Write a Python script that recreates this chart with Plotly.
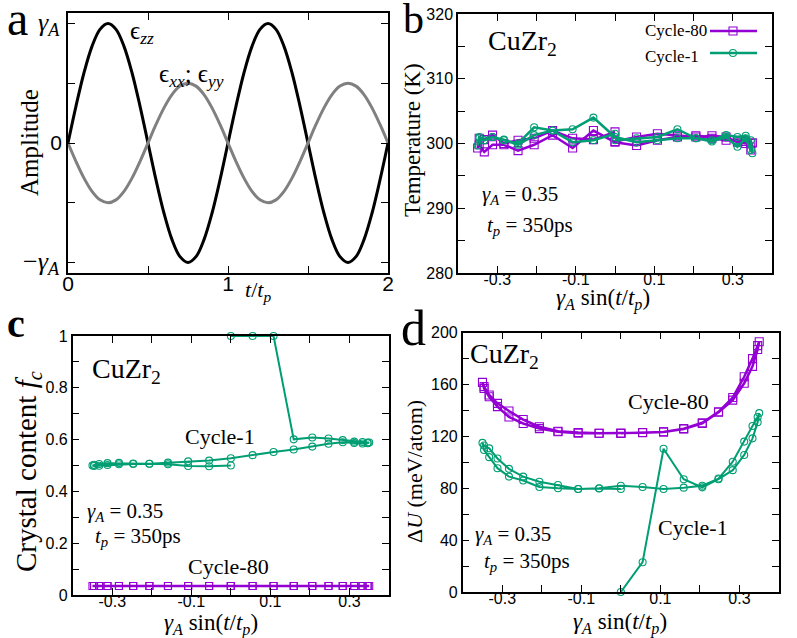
import plotly.graph_objects as go

# ---------------- data ----------------
# panel a: schematic strain signals vs t/t_p
T_A = [0, 0.05, 0.1, 0.15, 0.2, 0.25, 0.3, 0.35, 0.4, 0.45, 0.5, 0.55, 0.6, 0.65, 0.7, 0.75, 0.8, 0.85, 0.9, 0.95,
       1.0, 1.05, 1.1, 1.15, 1.2, 1.25, 1.3, 1.35, 1.4, 1.45, 1.5, 1.55, 1.6, 1.65, 1.7, 1.75, 1.8, 1.85, 1.9, 1.95, 2.0]
EPS_ZZ = [0, 0.309, 0.588, 0.809, 0.951, 1.0, 0.951, 0.809, 0.588, 0.309, 0, -0.309, -0.588, -0.809, -0.951, -1.0,
          -0.951, -0.809, -0.588, -0.309, 0, 0.309, 0.588, 0.809, 0.951, 1.0, 0.951, 0.809, 0.588, 0.309, 0,
          -0.309, -0.588, -0.809, -0.951, -1.0, -0.951, -0.809, -0.588, -0.309, 0]
EPS_XX = [0, -0.155, -0.294, -0.405, -0.476, -0.5, -0.476, -0.405, -0.294, -0.155, 0, 0.155, 0.294, 0.405, 0.476,
          0.5, 0.476, 0.405, 0.294, 0.155, 0, -0.155, -0.294, -0.405, -0.476, -0.5, -0.476, -0.405, -0.294, -0.155,
          0, 0.155, 0.294, 0.405, 0.476, 0.5, 0.476, 0.405, 0.294, 0.155, 0]

# panels b-d: applied strain gamma_A sin(t/t_p) along one cycle
STRAIN = [0, 0.055, 0.108, 0.159, 0.206, 0.247, 0.283, 0.312, 0.333, 0.346, 0.35,
          0.346, 0.333, 0.312, 0.283, 0.247, 0.206, 0.159, 0.108, 0.055, 0,
          -0.055, -0.108, -0.159, -0.206, -0.247, -0.283, -0.312, -0.333, -0.346, -0.35,
          -0.346, -0.333, -0.312, -0.283, -0.247, -0.206, -0.159, -0.108, -0.055, 0]

TEMP_C80 = [300.3, 301.0, 301.5, 301.2, 301.0, 301.2, 301.0, 300.2, 300.0, 300.0, 300.1,
            299.0, 300.3, 300.5, 300.5, 300.8, 301.2, 301.0, 300.5, 299.7, 300.2,
            302.0, 299.3, 301.3, 299.8, 298.9, 299.8, 299.8, 298.7, 299.8, 299.3,
            300.8, 300.6, 301.3, 300.0, 300.5, 300.8, 302.0, 300.8, 300.6, 301.8]
TEMP_C1 = [300.5, 300.8, 301.0, 302.2, 300.8, 300.5, 301.3, 301.0, 301.2, 300.5, 298.5,
           299.0, 300.8, 299.5, 301.0, 300.3, 300.8, 300.8, 300.5, 300.2, 301.0,
           304.0, 302.2, 302.0, 302.5, 300.0, 300.5, 301.0, 300.5, 301.0, 299.7,
           300.8, 300.5, 301.0, 300.6, 299.8, 301.3, 302.0, 300.2, 300.5, 301.5]

FC_C80 = [0.035] * 41
FC_C1 = [1.0, 1.0, 1.0, 0.601, 0.608, 0.604, 0.598, 0.592, 0.591, 0.589, 0.589,
         0.586, 0.585, 0.587, 0.590, 0.584, 0.573, 0.562, 0.552, 0.540, 0.528,
         0.519, 0.516, 0.511, 0.507, 0.508, 0.510, 0.509, 0.506, 0.503, 0.500,
         0.498, 0.499, 0.502, 0.505, 0.506, 0.507, 0.505, 0.498, 0.497, 0.500]

DU_C80 = [122.4, 123.0, 123.5, 125.7, 130.0, 138.6, 148.0, 161.0, 174.0, 187.0, 193.0,
          190.0, 180.0, 166.0, 150.0, 139.0, 130.5, 126.0, 123.5, 122.8, 122.4,
          122.4, 123.0, 124.0, 127.5, 133.0, 139.6, 145.5, 152.0, 158.4, 161.7,
          157.0, 150.6, 143.0, 135.0, 130.0, 126.0, 123.6, 122.5, 122.4, 122.4]
DU_C1 = [0.0, 23.0, 110.5, 87.0, 80.7, 87.0, 94.0, 105.7, 118.5, 131.0, 138.0,
         135.0, 128.0, 116.0, 100.5, 87.5, 82.0, 80.5, 79.5, 81.0, 82.0,
         80.0, 79.5, 80.0, 81.0, 86.0, 89.0, 95.5, 104.0, 109.5, 115.0,
         113.0, 110.8, 103.0, 95.0, 89.0, 85.0, 82.5, 79.5, 79.8, 79.5]

STRAIN_LABELS = [-0.3, -0.1, 0.1, 0.3]
STRAIN_LABEL_TEXT = ['-0.3', '-0.1', '0.1', '0.3']
STRAIN_MINOR = [-0.2, 0, 0.2]

PURPLE = '#9400d3'
GREEN = '#009e73'
SERIF = 'Liberation Serif, DejaVu Serif, serif'
SANS = 'Liberation Sans, Arial, sans-serif'

W, H = 797, 638


def px(x):
    return x / W


def py(y):
    return 1 - y / H


fig = go.Figure()

# panel a
fig.add_trace(go.Scatter(x=T_A, y=EPS_ZZ, mode='lines', line=dict(color='black', width=3, shape='spline'),
                         xaxis='x', yaxis='y', showlegend=False))
fig.add_trace(go.Scatter(x=T_A, y=EPS_XX, mode='lines', line=dict(color='#808080', width=3, shape='spline'),
                         xaxis='x', yaxis='y', showlegend=False))


def cyc(xs, ys, ax, color, symbol, size, lw):
    fig.add_trace(go.Scatter(x=xs, y=ys, mode='lines+markers', xaxis='x' + ax, yaxis='y' + ax,
                             line=dict(color=color, width=lw),
                             marker=dict(symbol=symbol, size=size, color=color, line=dict(color=color, width=1.1)),
                             cliponaxis=False, showlegend=False))


cyc(STRAIN, TEMP_C80, '2', PURPLE, 'square-open', 8, 2.5)
cyc(STRAIN, TEMP_C1, '2', GREEN, 'circle-open', 7, 2.5)
cyc(STRAIN, FC_C1, '3', GREEN, 'circle-open', 7, 2)
cyc(STRAIN, FC_C80, '3', PURPLE, 'square-open', 7, 2.5)
cyc(STRAIN, DU_C80, '4', PURPLE, 'square-open', 8, 2.5)
cyc(STRAIN, DU_C1, '4', GREEN, 'circle-open', 7, 2)


def axis(domain, rng, anchor, tickvals, ticktext, minorvals, size=16, xax=True):
    d = dict(showline=True, linecolor='black', linewidth=1.5, mirror='ticks', ticks='inside', ticklen=7,
             tickwidth=1.2, tickcolor='black', showgrid=False, zeroline=False, automargin=False,
             tickfont=dict(family=SANS, size=size, color='black'),
             domain=domain, range=rng, anchor=anchor, tickmode='array', tickvals=tickvals, ticktext=ticktext,
             minor=dict(tickmode='array', tickvals=minorvals, ticks='inside', ticklen=7, tickwidth=1.2,
                        tickcolor='black', showgrid=False))
    if xax:
        d['ticklabelstandoff'] = -9
    return d


fig.update_layout(
    width=W, height=H, margin=dict(l=0, r=0, t=0, b=0, autoexpand=False),
    paper_bgcolor='white', plot_bgcolor='white',
    xaxis=axis([px(68), px(388)], [0, 2], 'y', [0, 1, 2], ['0', '1', '2'], [0.5, 1.5], size=21),
    yaxis=axis([py(273), py(13)], [-1.088, 1.088], 'x', [0], ['0'], [-1, -0.5, 0.5, 1], size=21, xax=False),
    xaxis2=axis([px(458), px(772)], [-0.4, 0.4], 'y2', STRAIN_LABELS, STRAIN_LABEL_TEXT, STRAIN_MINOR),
    yaxis2=axis([py(273), py(14)], [280, 320], 'x2', [280, 290, 300, 310, 320],
                ['280', '290', '300', '310', '320'], [285, 295, 305, 315], xax=False),
    xaxis3=axis([px(72.7), px(389)], [-0.4, 0.4], 'y3', STRAIN_LABELS, STRAIN_LABEL_TEXT, STRAIN_MINOR),
    yaxis3=axis([py(595), py(336)], [0, 1], 'x3', [0, 0.2, 0.4, 0.6, 0.8, 1.0],
                ['0', '0.2', '0.4', '0.6', '0.8', '1'], [0.1, 0.3, 0.5, 0.7, 0.9], xax=False),
    xaxis4=axis([px(462.7), px(779)], [-0.4, 0.4], 'y4', STRAIN_LABELS, STRAIN_LABEL_TEXT, STRAIN_MINOR),
    yaxis4=axis([py(592), py(332.7)], [0, 200], 'x4', [0, 40, 80, 120, 160, 200],
                ['0', '40', '80', '120', '160', '200'], [20, 60, 100, 140, 180], xax=False),
)

ann = []


def text(x, y, s, size, family=SERIF, xanchor='center', angle=0, color='black'):
    ann.append(dict(x=px(x), y=py(y), xref='paper', yref='paper', text=s, showarrow=False,
                    xanchor=xanchor, yanchor='middle', textangle=angle,
                    font=dict(family=family, size=size, color=color)))


gA = '<i>γ</i><sub><i>A</i></sub>'
tp = '<i>t</i><sub><i>p</i></sub>'
xlab = gA + ' sin(<i>t</i>/' + tp + ')'

# panel letters
text(17, 19, 'a', 48)
text(414, 19, 'b', 42)
text(16, 323, '<b>c</b>', 40)
text(414, 328, 'd', 50)

# panel a
text(62, 24, gA, 26, xanchor='right')
text(62, 263, '−' + gA, 26, xanchor='right')
text(30, 142, 'Amplitude', 25, angle=-90)
text(258, 291, '<i>t</i>/' + tp, 22)
text(142, 32, 'ϵ<sub><i>zz</i></sub>', 25)
text(191, 75, 'ϵ<sub><i>xx</i></sub>; ϵ<sub><i>yy</i></sub>', 25)

# panel b
text(412, 140, 'Temperature (K)', 23, angle=-90)
text(603, 299, xlab, 23)
text(486, 43, 'CuZr<sub>2</sub>', 28, xanchor='left')
text(480, 195, gA + ' = 0.35', 21, xanchor='left')
text(485, 226, tp + ' = 350ps', 21, xanchor='left')
text(643, 31, 'Cycle-80', 17, xanchor='left')
text(643, 56, 'Cycle-1', 17, xanchor='left')

# panel c
text(28, 472, 'Crystal content <i>f</i><sub><i>c</i></sub>', 29, angle=-90)
text(211, 624, xlab, 23)
text(90, 370, 'CuZr<sub>2</sub>', 28, xanchor='left')
text(85, 512, gA + ' = 0.35', 21, xanchor='left')
text(93, 537, tp + ' = 350ps', 21, xanchor='left')
text(220, 436, 'Cycle-1', 22)
text(228, 566, 'Cycle-80', 22)

# panel d
text(414, 471, 'Δ<i>U</i> (meV/atom)', 22, angle=-90)
text(620, 623, xlab, 23)
text(468, 355, 'CuZr<sub>2</sub>', 28, xanchor='left')
text(473, 535, gA + ' = 0.35', 21, xanchor='left')
text(482, 562, tp + ' = 350ps', 21, xanchor='left')
text(668, 401, 'Cycle-80', 22)
text(693, 527, 'Cycle-1', 22)

fig.update_layout(annotations=ann)

# manual legend for panel b (text left, sample right)
shapes = [
    dict(type='line', xref='paper', yref='paper', x0=px(710), x1=px(757), y0=py(31), y1=py(31),
         line=dict(color=PURPLE, width=2.5)),
    dict(type='rect', xref='paper', yref='paper', xsizemode='pixel', ysizemode='pixel',
         xanchor=px(733), yanchor=py(31), x0=-4, x1=4, y0=-4, y1=4, line=dict(color=PURPLE, width=1.1)),
    dict(type='line', xref='paper', yref='paper', x0=px(710), x1=px(757), y0=py(53), y1=py(53),
         line=dict(color=GREEN, width=2.5)),
    dict(type='circle', xref='paper', yref='paper', xsizemode='pixel', ysizemode='pixel',
         xanchor=px(733), yanchor=py(53), x0=-3.5, x1=3.5, y0=-3.5, y1=3.5, line=dict(color=GREEN, width=1.1)),
]
fig.update_layout(shapes=shapes)

fig.write_html('out.html', config={'displayModeBar': False},
               post_script="document.body.style.margin='0px';document.body.style.overflow='hidden';")
